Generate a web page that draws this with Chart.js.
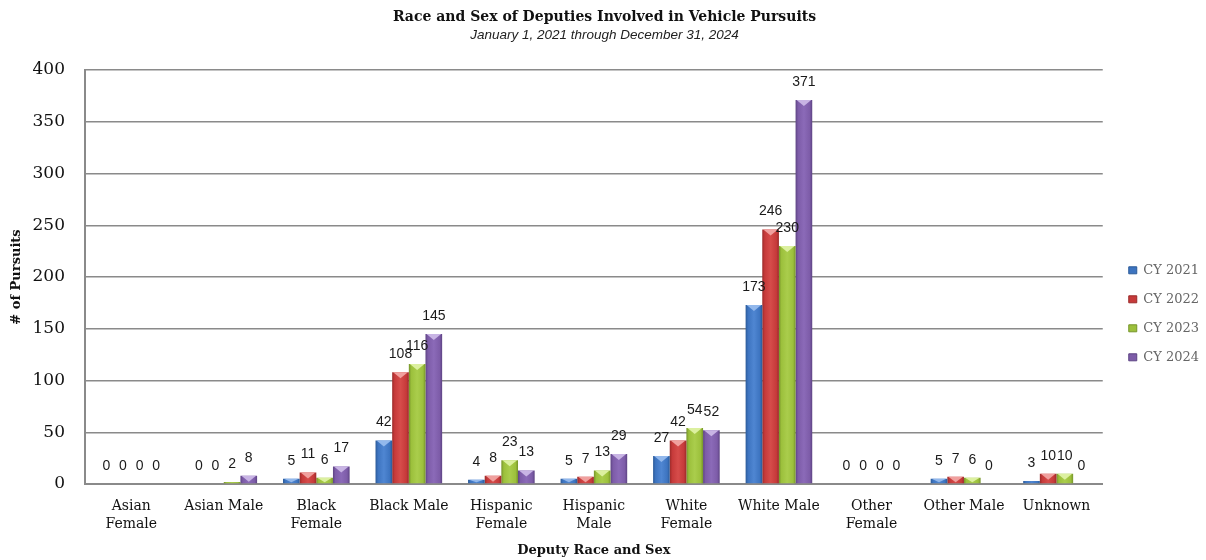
<!DOCTYPE html>
<html>
<head>
<meta charset="utf-8">
<script src="https://cdn.jsdelivr.net/npm/chart.js@4/dist/chart.umd.min.js"></script>
<style>
html,body{margin:0;padding:0;background:#fff;}
#wrap{width:1206px;height:560px;position:relative;}
</style>
</head>
<body>
<div id="wrap"><canvas id="c" width="1206" height="560"></canvas></div>
<script>
const categories = [["Asian","Female"],"Asian Male",["Black","Female"],"Black Male",["Hispanic","Female"],["Hispanic","Male"],["White","Female"],"White Male",["Other","Female"],"Other Male","Unknown"];
const seriesNames = ["CY 2021","CY 2022","CY 2023","CY 2024"];
const cy2021 = [0,0,5,42,4,5,27,173,0,5,3];
const cy2022 = [0,0,11,108,8,7,42,246,0,7,10];
const cy2023 = [0,2,6,116,23,13,54,230,0,6,10];
const cy2024 = [0,8,17,145,13,29,52,371,0,0,0];
const yTicks = [0,50,100,150,200,250,300,350,400];

const palette = [
  {base:'#3d74c0', dark:'#2b5a98', light:'#4f86d2', cap:'#92b8ec'},
  {base:'#c63a3a', dark:'#9a2a29', light:'#d64c4a', cap:'#f0a09e'},
  {base:'#9cc03c', dark:'#76942a', light:'#aacd4c', cap:'#dcf0a0'},
  {base:'#7d5ca8', dark:'#5d4383', light:'#8b6ab8', cap:'#c8b4e4'}
];

const seriesValues = [cy2021, cy2022, cy2023, cy2024];
const datasets = seriesNames.map((n,i)=>({
  label:n,
  data:seriesValues[i],
  backgroundColor:(ctx)=>palette[i].base,
  borderWidth:0,
  categoryPercentage:0.72,
  barPercentage:1.0
}));

const bevelPlugin = {
  id:'bevel',
  beforeDatasetsDraw(chart){
    const ctx = chart.ctx;
    chart.data.datasets.forEach((ds,di)=>{
      const meta = chart.getDatasetMeta(di);
      const p = palette[di];
      meta.data.forEach(el=>{
        const w = el.width;
        const l = el.x - w/2;
        const g = ctx.createLinearGradient(l,0,l+w,0);
        g.addColorStop(0,p.dark);
        g.addColorStop(0.15,p.base);
        g.addColorStop(0.5,p.light);
        g.addColorStop(0.85,p.base);
        g.addColorStop(1,p.dark);
        el.options.backgroundColor = g;
      });
    });
  },
  afterDatasetsDraw(chart){
    const ctx = chart.ctx;
    ctx.save();
    chart.data.datasets.forEach((ds,di)=>{
      const meta = chart.getDatasetMeta(di);
      const p = palette[di];
      meta.data.forEach((el,idx)=>{
        const v = ds.data[idx];
        const w = el.width;
        const l = el.x - w/2, r = el.x + w/2;
        const h = el.base - el.y;
        if (h > 3) {
          const ch = Math.min(6, h - 1);
          ctx.fillStyle = p.cap;
          ctx.beginPath();
          ctx.moveTo(l+1, el.y);
          ctx.lineTo(r-1, el.y);
          ctx.lineTo(el.x, el.y+ch);
          ctx.closePath();
          ctx.fill();
        }
        ctx.fillStyle = '#1a1a1a';
        ctx.font = '14px "Liberation Sans", Arial, sans-serif';
        ctx.textAlign = 'center';
        ctx.textBaseline = 'middle';
        ctx.fillText(String(v), el.x, el.y - 18);
      });
    });
    ctx.restore();
  }
};

new Chart(document.getElementById('c'), {
  type:'bar',
  data:{labels:categories, datasets},
  plugins:[bevelPlugin],
  options:{
    responsive:false,
    animation:false,
    layout:{padding:{left:0,right:-3,top:0,bottom:0}},
    plugins:{
      title:{display:true,text:'Race and Sex of Deputies Involved in Vehicle Pursuits',
        font:{family:'"DejaVu Serif", serif',size:14,weight:'bold'},color:'#111',padding:{top:9,bottom:1}},
      subtitle:{display:true,text:'January 1, 2021 through December 31, 2024',
        font:{family:'"Liberation Sans", sans-serif',size:13.5,style:'italic'},color:'#222',padding:{bottom:27}},
      legend:{position:'right',align:'center',
        title:{display:true,text:' ',padding:{top:52,bottom:0},font:{size:13}},
        labels:{boxWidth:8,boxHeight:7,padding:16,color:'#111',
          font:{family:'"DejaVu Serif", serif',size:13},
          generateLabels(chart){
            return chart.data.datasets.map((d,i)=>({text:d.label,fillStyle:palette[i].base,strokeStyle:palette[i].dark,lineWidth:1,datasetIndex:i}));
          }}},
      tooltip:{enabled:false}
    },
    scales:{
      x:{
        grid:{display:false,drawTicks:false},
        border:{display:true,color:'#8a8a8a',width:2},
        ticks:{color:'#111',font:{family:'"DejaVu Serif", serif',size:14,lineHeight:1.3},padding:13,maxRotation:0,autoSkip:false},
        title:{display:true,text:'Deputy Race and Sex',color:'#111',font:{family:'"DejaVu Serif", serif',size:13,weight:'bold'},padding:{top:0,bottom:2}},
        afterFit(s){s.height = 76;}
      },
      y:{
        min:0,max:400,
        afterBuildTicks(axis){axis.ticks = yTicks.map(v=>({value:v}));},
        grid:{color:'#8a8a8a',lineWidth:1.5,drawTicks:false},
        border:{display:true,color:'#8a8a8a',width:2},
        ticks:{color:'#111',font:{family:'"DejaVu Serif", serif',size:17},padding:20},
        title:{display:true,text:'# of Pursuits',color:'#111',font:{family:'"DejaVu Serif", serif',size:13,weight:'bold'},padding:{top:9,bottom:4}},
        afterFit(s){s.width = 85;}
      },
      gap:{
        position:'right',display:true,
        grid:{display:false,drawTicks:false},border:{display:false},
        ticks:{display:false},
        afterFit(s){s.width=10;}
      }
    }
  }
});
</script>
</body>
</html>
